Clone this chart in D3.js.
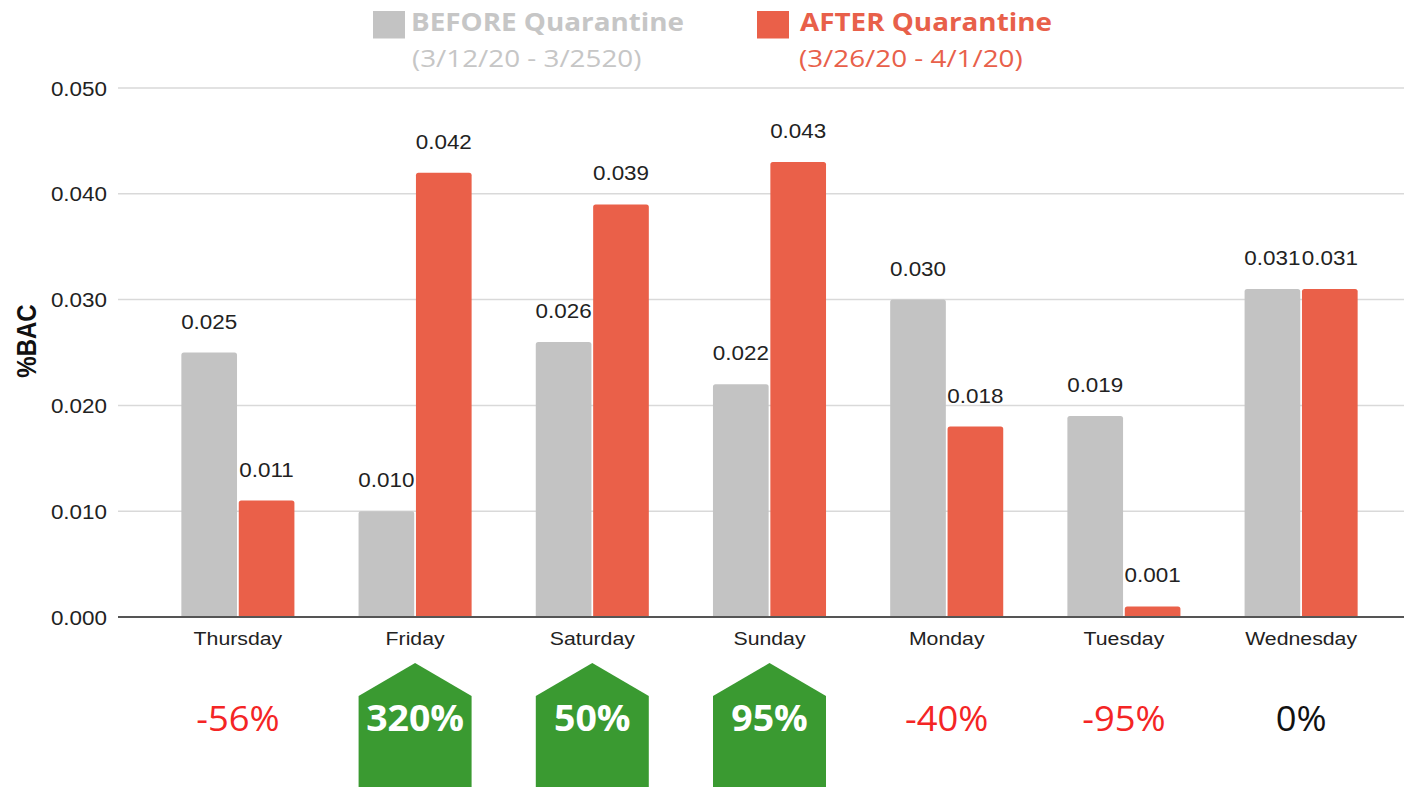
<!DOCTYPE html>
<html>
<head>
<meta charset="utf-8">
<script src="https://cdn.jsdelivr.net/npm/d3@7"></script>
<style>
  html, body { margin: 0; padding: 0; background: #ffffff; }
  svg { display: block; }
</style>
</head>
<body>
<svg id="chart" width="1404" height="787"></svg>
<script>
// ---- DATA ----
const days = ["Thursday", "Friday", "Saturday", "Sunday", "Monday", "Tuesday", "Wednesday"];
const beforeValues = [0.025, 0.010, 0.026, 0.022, 0.030, 0.019, 0.031];
const afterValues  = [0.011, 0.042, 0.039, 0.043, 0.018, 0.001, 0.031];
const changePct    = [-56, 320, 50, 95, -40, -95, 0];
const yTicks = [0.000, 0.010, 0.020, 0.030, 0.040, 0.050];
const seriesKeys = ["before", "after"];
const legendTitles = ["BEFORE Quarantine", "AFTER Quarantine"];
const legendDates = ["(3/12/20 - 3/2520)", "(3/26/20 - 4/1/20)"];
const yTitle = "%BAC";

// ---- STYLE ----
const colors = { before: "#c3c3c3", after: "#ea6049" };
const legendText = { before: "#c6c6c6", after: "#e8604a" };
const SX = 1.15; // horizontal stretch of the reference text
const sans = "'Liberation Sans', Arial, sans-serif";
const open = "'Open Sans', sans-serif";

const svg = d3.select("#chart");

const y = d3.scaleLinear().domain([0, 0.05]).range([617, 88]);
const x0 = d3.scaleBand().domain(days).range([149, 1390]).paddingInner(0.362).paddingOuter(0.1826);
const x1 = d3.scaleBand().domain(seriesKeys).range([0, x0.bandwidth()]).paddingInner(0.03);

const rows = days.map((d, i) => ({ day: d, before: beforeValues[i], after: afterValues[i], change: changePct[i] }));

function stretchedText(g, x, yPos, txt, sx) {
  return g.append("text")
    .attr("transform", `translate(${x},${yPos}) scale(${sx},1)`)
    .text(txt);
}

// gridlines
const grid = svg.append("g");
yTicks.forEach(t => {
  if (t === 0) return;
  grid.append("line")
    .attr("x1", 118).attr("x2", 1404)
    .attr("y1", y(t)).attr("y2", y(t))
    .attr("stroke", "#d9d9d9").attr("stroke-width", 1.5);
});

// y tick labels
const yAxisG = svg.append("g").attr("font-family", sans).attr("font-size", 19.5).attr("fill", "#222").attr("text-anchor", "end");
yTicks.forEach(t => {
  stretchedText(yAxisG, 107, y(t) + 7.5, d3.format(".3f")(t), SX);
});

// y title
svg.append("text")
  .attr("transform", "translate(36,341) rotate(-90) scale(1,1.15)")
  .attr("text-anchor", "middle")
  .attr("font-family", sans).attr("font-weight", "bold").attr("font-size", 24)
  .attr("fill", "#111")
  .text(yTitle);

// bars
function topRoundedRect(x, yTop, w, h, r) {
  r = Math.min(r, h, w / 2);
  return `M${x},${yTop + h}V${yTop + r}Q${x},${yTop} ${x + r},${yTop}H${x + w - r}Q${x + w},${yTop} ${x + w},${yTop + r}V${yTop + h}Z`;
}
const groups = svg.append("g").selectAll("g").data(rows).join("g")
  .attr("transform", d => `translate(${x0(d.day)},0)`);

groups.selectAll("path").data(d => seriesKeys.map(k => ({ key: k, value: d[k] }))).join("path")
  .attr("d", d => topRoundedRect(x1(d.key), y(d.value), x1.bandwidth(), y(0) - y(d.value), 2.5))
  .attr("fill", d => colors[d.key]);

// value labels
groups.each(function (d) {
  const g = d3.select(this).append("g")
    .attr("font-family", sans).attr("font-size", 19.5).attr("fill", "#222").attr("text-anchor", "middle");
  seriesKeys.forEach(k => {
    stretchedText(g, x1(k) + x1.bandwidth() / 2, y(d[k]) - 24, d3.format(".3f")(d[k]), SX);
  });
});

// baseline axis
svg.append("line")
  .attr("x1", 118).attr("x2", 1404)
  .attr("y1", y(0)).attr("y2", y(0))
  .attr("stroke", "#555").attr("stroke-width", 2);

// category labels
const catG = svg.append("g").attr("font-family", sans).attr("font-size", 18.5).attr("fill", "#222").attr("text-anchor", "middle");
rows.forEach(d => {
  stretchedText(catG, x0(d.day) + x0.bandwidth() / 2, 645, d.day, SX);
});

// change annotations
const ann = svg.append("g");
rows.forEach(d => {
  const cx = x0(d.day) + x0.bandwidth() / 2;
  const label = d.change + "%";
  if (d.change > 0) {
    const hw = 56.5;
    ann.append("polygon")
      .attr("points", [[cx - hw, 787], [cx - hw, 696], [cx, 663], [cx + hw, 696], [cx + hw, 787]].map(p => p.join(",")).join(" "))
      .attr("fill", "#3a9a31");
    stretchedText(ann, cx, 731, label, 1.07)
      .attr("text-anchor", "middle").attr("font-family", open).attr("font-weight", "bold")
      .attr("font-size", 35).attr("fill", "#ffffff");
  } else {
    stretchedText(ann, cx, 731, label, 1.04)
      .attr("text-anchor", "middle").attr("font-family", open)
      .attr("font-size", 35).attr("fill", d.change < 0 ? "#f42525" : "#111111");
  }
});

// legend
const legendSwatchX = [373, 757];
const legendTitleX = [411, 800];
const legendDateX = [412, 799];
seriesKeys.forEach((k, i) => {
  const lg = svg.append("g");
  lg.append("rect").attr("x", legendSwatchX[i]).attr("y", 11).attr("width", 32).attr("height", 27.5).attr("fill", colors[k]);
  stretchedText(lg, legendTitleX[i], 30.7, legendTitles[i], SX)
    .attr("font-family", open).attr("font-weight", "bold").attr("font-size", 24.2).attr("fill", legendText[k]);
  stretchedText(lg, legendDateX[i], 67, legendDates[i], SX)
    .attr("font-family", open).attr("font-size", 24.2).attr("fill", legendText[k]);
});
</script>
</body>
</html>
